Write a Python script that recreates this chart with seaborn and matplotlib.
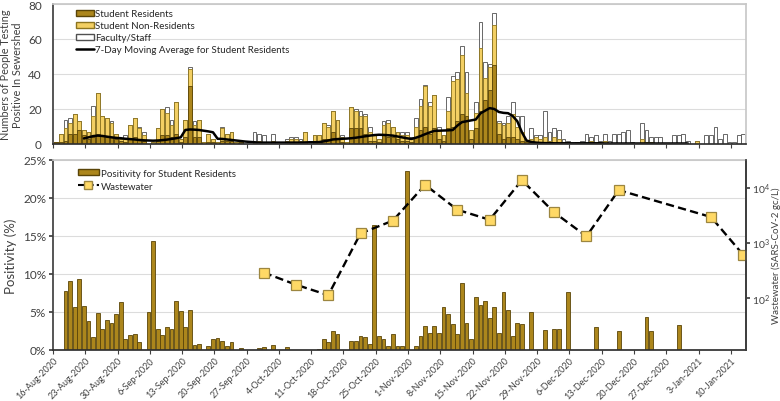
import datetime as dt
import numpy as np
import pandas as pd
import matplotlib
matplotlib.use("Agg")
import matplotlib.pyplot as plt
import seaborn as sns
from matplotlib.patches import Patch
from matplotlib.lines import Line2D
from matplotlib.ticker import FuncFormatter, NullLocator

# ---- data (day 0 = 16-Aug-2020) ----
start = dt.date(2020, 8, 16)
days = list(range(150))

residents = [1, 1, 2, 6, 6, 8, 5, 3, 4, 6, 5, 4, 4, 3, 2, 1, 3, 4, 3, 2,
             0, 0, 2, 5, 5, 4, 6, 1, 4, 33, 4, 4, 0, 1, 1, 0, 2, 2, 2, 0,
             1, 0, 0, 1, 0, 1, 0, 1, 0, 0, 1, 1, 1, 0, 1, 0, 1, 1, 3, 3,
             7, 3, 1, 0, 9, 9, 9, 6, 2, 2, 1, 5, 4, 4, 3, 2, 2, 1, 4, 8,
             10, 6, 9, 3, 2, 9, 10, 13, 17, 16, 3, 9, 19, 25, 31, 45, 6, 3, 4, 4,
             3, 2, 1, 1, 1, 1, 0, 0, 0, 0, 0, 0, 0, 0, 0, 0, 0, 0, 0, 0,
             0, 0, 0, 0, 0, 0, 0, 0, 0, 0, 0, 0, 0, 0, 0, 0, 0, 0, 0, 0,
             0, 0, 0, 0, 0, 0, 0, 0, 0, 0]
non_residents = [0, 5, 7, 6, 11, 5, 3, 4, 12, 23, 11, 11, 8, 3, 1, 2, 8, 11, 6, 3,
                 0, 1, 7, 15, 13, 7, 18, 2, 10, 10, 7, 10, 1, 5, 2, 1, 7, 4, 5, 1,
                 1, 0, 0, 0, 2, 0, 0, 1, 0, 0, 1, 2, 2, 2, 6, 0, 4, 4, 9, 7,
                 12, 11, 3, 1, 12, 10, 7, 10, 5, 3, 2, 6, 8, 6, 4, 3, 3, 2, 6, 14,
                 23, 16, 19, 5, 3, 10, 26, 24, 34, 13, 5, 9, 36, 13, 13, 23, 6, 8, 8, 13,
                 7, 5, 1, 2, 3, 2, 4, 2, 4, 3, 1, 1, 0, 0, 0, 0, 2, 1, 1, 2,
                 0, 0, 0, 0, 0, 0, 0, 3, 1, 1, 0, 0, 0, 0, 0, 0, 0, 0, 0, 2,
                 0, 0, 0, 0, 0, 0, 0, 0, 0, 0]
faculty = [0, 0, 5, 3, 0, 0, 0, 0, 6, 0, 0, 0, 1, 0, 0, 2, 0, 0, 1, 2,
           0, 0, 0, 0, 3, 3, 0, 0, 0, 1, 2, 0, 0, 0, 0, 0, 1, 0, 0, 0,
           0, 0, 0, 6, 4, 4, 0, 4, 0, 0, 1, 1, 1, 1, 0, 0, 0, 0, 0, 1,
           0, 0, 1, 0, 0, 1, 3, 1, 3, 0, 0, 2, 2, 0, 0, 2, 2, 1, 5, 4,
           1, 2, 0, 2, 0, 8, 3, 4, 5, 12, 0, 6, 15, 9, 2, 7, 1, 1, 4, 7,
           6, 9, 0, 6, 1, 2, 15, 5, 5, 5, 2, 1, 0, 1, 2, 6, 2, 4, 1, 4,
           2, 6, 6, 7, 8, 1, 0, 9, 7, 3, 4, 4, 0, 0, 5, 5, 6, 2, 0, 0,
           0, 5, 5, 10, 3, 6, 1, 1, 5, 6]

ma_days = list(range(6, 138))
ma_values = [3.2, 3.8, 4.5, 4.8, 4.6, 4.2, 3.8, 3.5, 3.3, 3.0, 2.8, 2.6, 2.3, 2.1,
             2.0, 1.9, 2.0, 2.2, 2.5, 2.9, 3.3, 3.8, 8.0, 8.3, 8.2, 8.0, 7.6, 7.2,
             6.7, 3.0, 2.9, 2.6, 2.3, 2.0, 1.7, 1.4, 1.2, 1.0, 0.8, 0.8, 0.8, 0.8,
             0.8, 0.8, 0.8, 0.8, 0.8, 0.8, 0.9, 1.0, 1.0, 1.1, 1.5, 2.0, 2.6, 2.8,
             3.0, 3.1, 3.3, 3.6, 4.0, 4.4, 4.8, 5.1, 5.3, 5.2, 5.0, 4.8, 4.3, 3.8,
             3.3, 2.9, 3.6, 4.5, 5.6, 6.6, 7.5, 7.6, 7.7, 7.8, 8.0, 10.5, 12.5, 13.0,
             13.5, 14.0, 17.5, 19.0, 20.5, 20.0, 18.3, 17.8, 17.6, 16.0, 13.0, 6.7, 2.0, 1.2,
             0.8, 0.6, 0.5, 0.5, 0.4, 0.4, 0.4, 0.4, 0.4, 0.4, 0.4, 0.4, 0.4, 0.4,
             0.4, 0.3, 0.3, 0.3, 0.3, 0.3, 0.3, 0.3, 0.3, 0.3, 0.3, 0.3, 0.3, 0.3,
             0.3, 0.3, 0.3, 0.3, 0.3, 0.3]

positivity = [0, 0, 7.7, 9.1, 5.7, 9.3, 5.8, 3.8, 1.7, 4.9, 2.8, 3.9, 3.6, 4.8, 6.3, 1.5, 2.0, 2.1, 1.0, 0,
              5.0, 14.3, 2.8, 2.0, 3.0, 2.8, 6.5, 5.1, 3.0, 5.3, 0.7, 0.8, 0, 0.5, 1.45, 1.6, 1.2, 0.5, 1.1, 0,
              0.3, 0, 0, 0, 0.25, 0.4, 0, 0.6, 0, 0, 0.4, 0, 0, 0, 0, 0, 0, 0.15, 1.4, 1.0,
              2.5, 2.1, 0, 0, 1.2, 1.2, 1.85, 1.75, 0.85, 16.5, 1.8, 1.45, 0.5, 2.1, 0.5, 0.5, 23.5, 0, 0.5, 1.8,
              3.2, 2.2, 3.2, 2.3, 5.7, 4.7, 3.4, 2.1, 8.8, 3.6, 1.5, 7.0, 5.9, 6.5, 4.2, 5.7, 2.3, 7.6, 5.2, 1.8,
              3.6, 3.4, 0, 5.0, 0, 0, 2.6, 0, 2.8, 2.7, 0, 7.6, 0, 0, 0, 0, 0, 3.0, 0, 0,
              0, 0, 2.45, 0, 0, 0, 0, 0, 4.3, 2.45, 0, 0, 0, 0, 0, 3.3, 0, 0, 0, 0,
              0, 0, 0, 0, 0, 0, 0, 0, 0, 0]

ww_days = [45, 52, 59, 66, 73, 80, 87, 94, 101, 108, 115, 122, 142, 149]
ww_values = [286, 172, 111, 1470, 2500, 11200, 3950, 2600, 13600, 3530, 1300, 8980, 2920, 600]

tick_days = list(range(0, 148, 7))
tick_labels = [f"{(start + dt.timedelta(d)).day}-{(start + dt.timedelta(d)).strftime('%b-%Y')}"
               for d in tick_days]

# ---- styling ----
sns.set_theme(style="white")
plt.rcParams["font.family"] = ["Lato", "DejaVu Sans"]

res_col, res_edge = "#AC861C", "#5A4508"
non_col, non_edge = "#F3CF63", "#8C7420"
fac_edge = "#505050"
grid_col = "#DCDCDC"
txt = "#404040"
off = 0.7  # bar centre sits to the right of its date tick

df = pd.DataFrame({"day": days, "res": residents, "non": non_residents, "fac": faculty,
                   "pos": positivity})
df["students"] = df["res"] + df["non"]
df["total"] = df["students"] + df["fac"]

fig = plt.figure(figsize=(7.8, 4.02), dpi=100)
ax1 = fig.add_axes([53 / 780, 1 - 145 / 402, 693 / 780, 140 / 402])
ax3 = fig.add_axes([53 / 780, 1 - 351 / 402, 693 / 780, 190 / 402])

# top: stacked counts drawn as overlapping cumulative bars
bar_kw = dict(x="day", native_scale=True, width=0.82, errorbar=None, saturation=1, linewidth=0.6, ax=ax1)
sns.barplot(data=df, y="total", color="white", edgecolor=fac_edge, **bar_kw)
sns.barplot(data=df, y="students", color=non_col, edgecolor=non_edge, **bar_kw)
sns.barplot(data=df, y="res", color=res_col, edgecolor=res_edge, **bar_kw)
sns.lineplot(x=ma_days, y=ma_values, color="black", linewidth=1.8, ax=ax1)

ax1.set_xlim(-off, 150.3 - off)
ax1.set_ylim(0, 80)
ax1.set_yticks([0, 20, 40, 60, 80])
ax1.yaxis.grid(True, color=grid_col, linewidth=0.8)
ax1.set_axisbelow(True)
ax1.set_xticks([d - off for d in tick_days])
ax1.set_xticklabels([])
ax1.tick_params(axis="x", bottom=True, length=3, color=txt, width=0.8)
ax1.tick_params(axis="y", left=False, labelsize=8.5, pad=2, labelcolor=txt)
ax1.set_xlabel("")
ax1.set_ylabel("Numbers of People Testing\nPositive In Sewershed", fontsize=7.8, color=txt,
               labelpad=4, linespacing=1.1)
for s in ["top", "right"]:
    ax1.spines[s].set_color("#C8C8C8")
ax1.spines["left"].set_color(txt)
ax1.spines["bottom"].set_color("#303030")

handles = [Patch(facecolor=res_col, edgecolor=res_edge, label="Student Residents"),
           Patch(facecolor=non_col, edgecolor=non_edge, label="Student Non-Residents"),
           Patch(facecolor="white", edgecolor=fac_edge, label="Faculty/Staff"),
           Line2D([], [], color="black", linewidth=1.8, label="7-Day Moving Average for Student Residents")]
ax1.legend(handles=handles, loc="upper left", bbox_to_anchor=(0.028, 0.99), frameon=False, fontsize=7,
           handlelength=1.8, handleheight=0.6, handletextpad=0.1, labelspacing=0.3, borderaxespad=0)

# bottom: positivity bars + wastewater on log twin axis
sns.barplot(data=df, x="day", y="pos", native_scale=True, width=0.82, errorbar=None, saturation=1,
            color=res_col, edgecolor=res_edge, linewidth=0.6, ax=ax3)
ax3.set_xlim(-off, 150.3 - off)
ax3.set_ylim(0, 25)
ax3.set_yticks([0, 5, 10, 15, 20, 25])
ax3.yaxis.set_major_formatter(FuncFormatter(lambda v, p: f"{v:.0f}%"))
ax3.yaxis.grid(True, color=grid_col, linewidth=0.8)
ax3.set_axisbelow(True)
ax3.set_xticks([d - off for d in tick_days])
ax3.set_xticklabels(tick_labels, rotation=45, ha="right", rotation_mode="anchor", fontsize=6.5,
                    color=txt)
ax3.tick_params(axis="x", bottom=True, length=3, color=txt, width=0.8, pad=1)
ax3.tick_params(axis="y", left=True, length=3, color=txt, labelsize=8.5, pad=2, labelcolor=txt)
ax3.set_xlabel("")
ax3.set_ylabel("Positivity (%)", fontsize=9.5, color=txt, labelpad=4)
ax3.spines["top"].set_color("#C8C8C8")
ax3.spines["left"].set_color(txt)
ax3.spines["bottom"].set_color("#303030")

ax4 = ax3.twinx()
ax4.set_yscale("log")
sns.lineplot(x=ww_days, y=ww_values, color="black", linewidth=1.7, linestyle=(0, (3.5, 1.8)),
             marker="s", markersize=6.5, markerfacecolor="#FFD966", markeredgecolor="#9C8640",
             markeredgewidth=0.9, ax=ax4)
ax4.set_ylim(10 ** 1.05, 10 ** 4.5)
ax4.set_xlim(-off, 150.3 - off)
ax4.yaxis.set_minor_locator(NullLocator())
ax4.set_yticks([100, 1000, 10000])
ax4.tick_params(axis="y", right=True, length=3, color=txt, labelsize=7.5, pad=1.5, labelcolor=txt)
ax4.set_ylabel("Wastewater (SARS-CoV-2 gc/L)", fontsize=7, color=txt, labelpad=1)
for s in ["top", "left", "bottom"]:
    ax4.spines[s].set_visible(False)
ax4.spines["right"].set_color(txt)

handles2 = [Patch(facecolor=res_col, edgecolor=res_edge, label="Positivity for Student Residents"),
            Line2D([], [], color="black", linewidth=1.5, linestyle=(0, (3, 1.5)), marker="s", markersize=6,
                   markerfacecolor="#FFD966", markeredgecolor="#9C8640", label="Wastewater")]
ax3.legend(handles=handles2, loc="upper left", bbox_to_anchor=(0.03, 0.975), frameon=False, fontsize=7,
           handlelength=2.2, handleheight=0.6, handletextpad=0.2, labelspacing=0.4, borderaxespad=0)

fig.savefig("out.png", dpi=100)
